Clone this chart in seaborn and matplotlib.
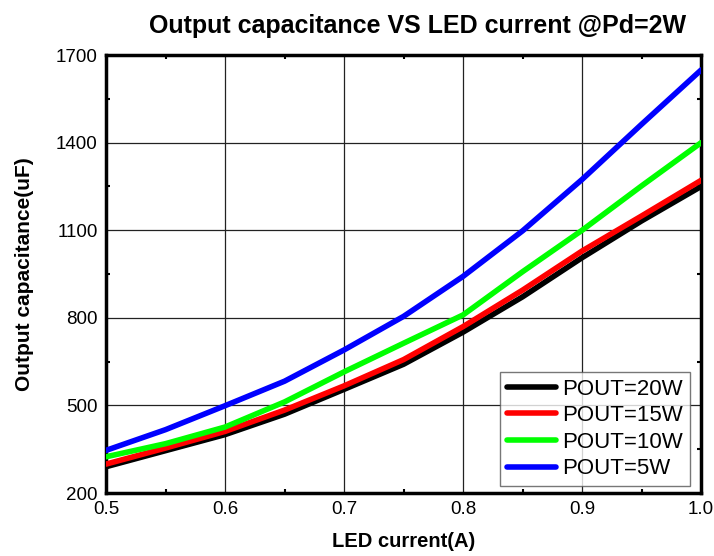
import pandas as pd
import numpy as np
import matplotlib.pyplot as plt
import seaborn as sns

sns.set_style("white")
plt.rcParams["font.family"] = ["Liberation Sans", "DejaVu Sans"]
plt.rcParams["text.color"] = "black"
plt.rcParams["axes.labelcolor"] = "black"
plt.rcParams["xtick.color"] = "black"
plt.rcParams["ytick.color"] = "black"

current = [0.5, 0.55, 0.6, 0.65, 0.7, 0.75, 0.8, 0.85, 0.9, 0.95, 1.0]
cap_20w = [290, 345, 400, 470, 555, 641, 751, 872, 1006, 1132, 1250]
cap_15w = [299, 354, 411, 484, 567, 657, 770, 895, 1029, 1149, 1271]
cap_10w = [324, 369, 426, 512, 615, 713, 810, 958, 1100, 1252, 1400]
cap_5w = [346, 417, 499, 583, 690, 805, 942, 1098, 1274, 1463, 1649]

labels = ["POUT=20W", "POUT=15W", "POUT=10W", "POUT=5W"]
colors = ["#000000", "#ff0000", "#00ff00", "#0000ff"]

df = pd.DataFrame({
    "current": current * 4,
    "cap": cap_20w + cap_15w + cap_10w + cap_5w,
    "series": [l for l in labels for _ in current],
})

fig = plt.figure(figsize=(7.14, 5.56), dpi=100)
ax = fig.add_axes([0.1485, 0.1133, 0.8335, 0.7877])

sns.lineplot(data=df, x="current", y="cap", hue="series", hue_order=labels,
             palette=colors, linewidth=4, ax=ax, zorder=3)

ax.set_xlim(0.5, 1.0)
ax.set_ylim(200, 1700)
ax.set_xticks(np.arange(0.5, 1.01, 0.1))
ax.set_xticklabels(["0.5", "0.6", "0.7", "0.8", "0.9", "1.0"])
ax.set_yticks([200, 500, 800, 1100, 1400, 1700])
ax.set_xticks(np.arange(0.55, 1.0, 0.1), minor=True)
ax.set_yticks([350, 650, 950, 1250, 1550], minor=True)
ax.tick_params(which="both", direction="in", top=True, right=True,
               bottom=True, left=True, labelsize=13.5)
ax.tick_params(which="major", length=0, pad=6)
ax.tick_params(which="minor", length=3, width=1.5)
ax.grid(True, which="major", color="#222222", linewidth=0.9)
for s in ax.spines.values():
    s.set_linewidth(2.5)
    s.set_color("black")

ax.set_title("Output capacitance VS LED current @Pd=2W", fontsize=18,
             fontweight="bold", pad=16, x=0.523)
ax.set_xlabel("LED current(A)", fontsize=14.5, fontweight="bold", labelpad=10)
ax.set_ylabel("Output capacitance(uF)", fontsize=15, fontweight="bold", labelpad=16)

leg = ax.legend(loc="lower right", fontsize=16, frameon=True, fancybox=False,
                handlelength=2.2, handletextpad=0.3, borderpad=0.3,
                labelspacing=0.25, borderaxespad=0,
                bbox_to_anchor=(0.981, 0.016))
leg.get_frame().set_edgecolor("#555555")
leg.get_frame().set_linewidth(1)
for line in leg.get_lines():
    line.set_linewidth(4)

fig.savefig("out.png", dpi=100)
